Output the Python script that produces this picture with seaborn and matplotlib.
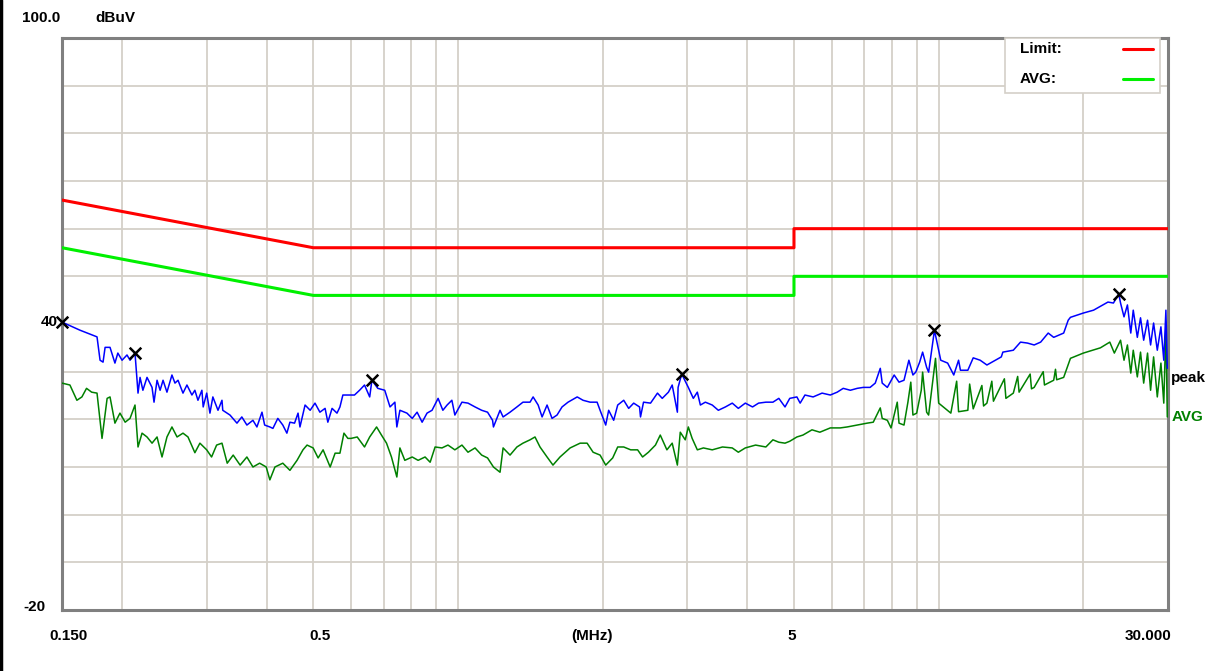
import matplotlib
matplotlib.use("Agg")
import matplotlib.pyplot as plt
from matplotlib.lines import Line2D
from matplotlib.patches import Rectangle
import matplotlib.transforms as mtransforms
import seaborn as sns

# ---------------- data ----------------
limit_freq = [0.15, 0.5, 5.0, 5.0, 30.0]
limit_qp = [66, 56, 56, 60, 60]
limit_avg = [56, 46, 46, 50, 50]

peak_freq = [
    0.150, 0.1635, 0.1774, 0.180, 0.1826, 0.1844, 0.1888, 0.1933, 0.196, 0.200,
    0.2048, 0.2078, 0.2128, 0.2159, 0.218, 0.221, 0.2254, 0.2309, 0.2331, 0.2365,
    0.240, 0.2434, 0.248, 0.254, 0.2577, 0.2615, 0.2678, 0.2729, 0.2795, 0.2835,
    0.2877, 0.2932, 0.295, 0.300, 0.3047, 0.309, 0.3167, 0.3228, 0.324, 0.3354,
    0.3468, 0.355, 0.3637, 0.3744, 0.3816, 0.391, 0.396, 0.406, 0.412, 0.4218,
    0.432, 0.4405, 0.447, 0.457, 0.4647, 0.469, 0.4806, 0.4925, 0.504, 0.516,
    0.529, 0.536, 0.547, 0.560, 0.568, 0.576, 0.590, 0.609, 0.624, 0.639,
    0.655, 0.662, 0.681, 0.704, 0.722, 0.739, 0.746, 0.757, 0.783, 0.803,
    0.822, 0.842, 0.862, 0.883, 0.909, 0.930, 0.949, 0.971, 0.985, 1.019,
    1.049, 1.085, 1.12, 1.152, 1.18, 1.185, 1.223, 1.241, 1.283, 1.326,
    1.365, 1.412, 1.433, 1.468, 1.496, 1.532, 1.569, 1.607, 1.646, 1.694,
    1.77, 1.82, 1.883, 1.947, 1.975, 2.029, 2.058, 2.108, 2.149, 2.212,
    2.265, 2.32, 2.386, 2.397, 2.432, 2.515, 2.60, 2.66, 2.74, 2.79,
    2.86, 2.87, 2.92, 3.014, 3.087, 3.147, 3.193, 3.27, 3.38, 3.48,
    3.60, 3.72, 3.83, 3.96, 4.10, 4.22, 4.37, 4.52, 4.65, 4.79,
    4.90, 5.07, 5.15, 5.27, 5.48, 5.72, 5.95, 6.15, 6.33, 6.55,
    6.77, 6.97, 7.20, 7.38, 7.56, 7.63, 7.82, 8.08, 8.27, 8.47,
    8.67, 8.84, 8.96, 9.13, 9.26, 9.44, 9.53, 9.80, 10.1, 10.44,
    10.75, 11.0, 11.1, 11.5, 11.8, 12.2, 12.6, 13.5, 13.6, 14.3,
    14.8, 15.3, 15.8, 16.3, 16.9, 17.35, 18.2, 18.6, 18.8, 20.0,
    21.0, 22.5, 23.1, 23.7, 23.9, 24.3, 24.7, 25.1, 25.4, 25.9,
    26.3, 26.7, 27.2, 27.6, 28.0, 28.5, 29.0, 29.4, 29.7, 29.9,
]
peak_db = [
    40.4, 38.7, 37.3, 32.4, 32.0, 35.1, 35.1, 31.8, 33.9, 32.4,
    33.5, 32.4, 33.9, 25.5, 28.8, 26.1, 28.8, 26.7, 23.6, 28.2,
    26.1, 28.2, 25.7, 29.3, 27.6, 28.2, 25.5, 27.2, 25.1, 26.1,
    24.0, 26.1, 22.6, 25.5, 21.3, 24.7, 21.9, 24.0, 21.9, 20.9,
    19.2, 20.5, 18.8, 19.8, 18.4, 21.5, 18.8, 18.4, 18.1, 20.2,
    18.8, 17.1, 19.4, 19.2, 21.3, 18.4, 23.0, 21.9, 23.4, 21.5,
    22.3, 19.4, 22.3, 21.3, 22.6, 25.1, 25.1, 25.1, 26.1, 27.2,
    24.7, 28.2, 26.5, 26.1, 22.6, 23.6, 18.4, 21.9, 21.3, 20.2,
    21.5, 19.4, 21.3, 21.9, 24.4, 21.9, 23.0, 24.0, 20.9, 23.6,
    23.4, 22.6, 21.9, 21.5, 19.8, 18.4, 21.9, 20.5, 21.5, 22.6,
    23.6, 23.6, 24.7, 23.0, 20.5, 23.0, 20.2, 20.9, 22.6, 23.6,
    24.7, 24.0, 23.6, 23.6, 21.9, 18.8, 21.9, 19.8, 23.0, 24.0,
    22.3, 23.4, 22.6, 20.5, 23.6, 23.4, 25.5, 24.4, 25.7, 27.2,
    21.5, 26.7, 29.5, 26.7, 24.4, 25.7, 23.0, 23.6, 23.0, 21.9,
    22.6, 23.4, 22.3, 23.4, 22.6, 23.4, 23.6, 23.6, 24.4, 22.6,
    24.4, 24.7, 23.4, 25.1, 24.7, 25.5, 25.1, 25.7, 26.5, 26.1,
    26.5, 26.7, 26.7, 27.6, 30.7, 27.6, 26.7, 29.3, 27.8, 28.2,
    32.4, 29.3, 29.9, 32.0, 34.1, 30.9, 29.9, 38.7, 32.4, 31.8,
    29.3, 32.4, 30.3, 30.3, 32.9, 32.4, 31.4, 33.1, 34.1, 34.5,
    36.2, 36.0, 35.6, 36.2, 38.1, 37.2, 38.1, 40.8, 41.4, 42.3,
    42.9, 44.6, 44.4, 46.3, 44.4, 41.5, 44.0, 38.1, 42.9, 37.2,
    41.3, 36.6, 40.8, 35.6, 40.2, 34.5, 39.4, 32.4, 42.9, 30.7,
]

avg_freq = [
    0.150, 0.1558, 0.1611, 0.165, 0.1687, 0.1729, 0.1774, 0.1817, 0.1862, 0.1888,
    0.1933, 0.198, 0.203, 0.2078, 0.2128, 0.2159, 0.2201, 0.2254, 0.2309, 0.2365,
    0.2422, 0.248, 0.254, 0.2603, 0.2678, 0.2743, 0.2835, 0.2904, 0.300, 0.3071,
    0.3146, 0.3228, 0.331, 0.3406, 0.3521, 0.3637, 0.3744, 0.3866, 0.399, 0.406,
    0.416, 0.432, 0.447, 0.4625, 0.4758, 0.4852, 0.4995, 0.5116, 0.524, 0.542,
    0.555, 0.568, 0.579, 0.590, 0.599, 0.617, 0.639, 0.655, 0.677, 0.693,
    0.710, 0.727, 0.746, 0.757, 0.775, 0.803, 0.826, 0.854, 0.875, 0.896,
    0.926, 0.953, 0.985, 1.019, 1.049, 1.085, 1.12, 1.152, 1.185, 1.223,
    1.241, 1.283, 1.326, 1.365, 1.412, 1.446, 1.481, 1.532, 1.576, 1.630,
    1.711, 1.795, 1.856, 1.910, 1.975, 2.029, 2.098, 2.149, 2.212, 2.287,
    2.364, 2.421, 2.49, 2.575, 2.635, 2.72, 2.79, 2.86, 2.90, 2.97,
    3.014, 3.07, 3.147, 3.24, 3.38, 3.55, 3.72, 3.83, 3.96, 4.16,
    4.37, 4.52, 4.65, 4.79, 4.90, 5.07, 5.22, 5.45, 5.66, 5.95,
    6.24, 6.45, 6.77, 7.10, 7.31, 7.56, 7.63, 7.82, 7.96, 8.20,
    8.27, 8.47, 8.63, 8.75, 8.84, 9.00, 9.20, 9.26, 9.44, 9.53,
    9.85, 10.0, 10.6, 10.9, 11.0, 11.5, 11.6, 11.8, 12.3, 12.4,
    12.6, 12.9, 13.0, 13.7, 13.8, 14.3, 14.6, 14.7, 15.5, 15.6,
    15.8, 16.5, 16.6, 17.35, 17.5, 17.6, 18.2, 18.8, 20.0, 21.7,
    22.7, 23.2, 23.9, 24.3, 24.7, 25.1, 25.4, 25.9, 26.3, 26.7,
    27.2, 27.6, 28.0, 28.5, 29.0, 29.4, 29.7, 29.9,
]
avg_db = [
    27.6, 27.2, 24.0, 24.7, 26.5, 25.7, 25.5, 16.0, 24.4, 24.7,
    19.2, 21.3, 19.4, 20.2, 23.0, 14.2, 17.1, 16.3, 15.0, 16.3,
    12.1, 16.3, 18.4, 16.3, 17.1, 16.3, 13.0, 15.0, 13.6, 12.1,
    14.6, 15.0, 10.8, 12.5, 10.4, 12.1, 10.0, 10.8, 10.0, 7.3,
    10.0, 10.8, 9.3, 11.4, 13.6, 14.6, 14.0, 11.9, 13.6, 10.0,
    12.9, 12.9, 17.1, 16.0, 16.0, 16.3, 14.2, 16.3, 18.4, 16.7,
    15.0, 12.1, 7.9, 14.0, 11.4, 12.1, 11.4, 12.1, 11.0, 14.2,
    14.0, 14.6, 13.6, 14.6, 13.1, 14.0, 12.5, 11.9, 10.0, 8.9,
    14.0, 12.5, 14.2, 15.0, 15.7, 16.3, 14.2, 12.1, 10.4, 12.1,
    14.0, 15.0, 15.0, 13.1, 12.5, 10.4, 11.9, 14.2, 14.2, 13.6,
    13.6, 12.1, 13.1, 14.6, 16.7, 13.6, 15.0, 10.4, 17.3, 15.7,
    18.4, 16.0, 13.6, 14.0, 13.6, 14.2, 14.0, 13.1, 14.0, 14.6,
    14.2, 15.7, 15.2, 15.0, 15.4, 16.3, 16.7, 17.8, 17.3, 18.2,
    18.2, 18.4, 18.8, 19.2, 19.4, 22.4, 20.2, 19.8, 18.2, 23.6,
    19.2, 18.8, 23.6, 27.8, 20.9, 21.3, 26.1, 29.9, 21.5, 20.9,
    32.8, 23.4, 21.3, 28.0, 21.6, 21.9, 27.4, 22.2, 27.1, 22.8,
    23.4, 28.0, 23.8, 28.5, 24.4, 25.5, 29.0, 25.7, 29.5, 26.4,
    26.7, 30.0, 27.2, 28.2, 30.5, 28.3, 28.8, 32.8, 33.9, 35.0,
    36.2, 33.9, 36.6, 32.4, 35.6, 29.7, 34.5, 28.9, 34.1, 27.6,
    33.9, 26.1, 33.1, 24.7, 31.8, 23.4, 39.4, 20.5,
]

marker_freq = [0.150, 0.213, 0.662, 2.92, 9.80, 23.7]
marker_db = [40.4, 33.9, 28.2, 29.5, 38.7, 46.3]

grid_freq = [0.2, 0.3, 0.4, 0.5, 0.6, 0.7, 0.8, 0.9, 1, 2, 3, 4, 5, 6, 7, 8, 9, 10, 20]
grid_db = list(range(-20, 101, 10))

# ---------------- style ----------------
sns.set_style("white")
plt.rcParams["font.family"] = ["Liberation Sans", "DejaVu Sans"]
GRID = "#D4D0C8"
SPINE = "#808080"
RED = "#FF0000"
LIME = "#00F000"

fig = plt.figure(figsize=(12.3, 6.71), dpi=100)
ax = fig.add_axes([62 / 1230, 61 / 671, 1106 / 1230, 572 / 671])

sns.lineplot(x=limit_freq, y=limit_qp, estimator=None, sort=False,
             color=RED, lw=2.2, ax=ax, zorder=3, legend=False)
sns.lineplot(x=limit_freq, y=limit_avg, estimator=None, sort=False,
             color=LIME, lw=2.2, ax=ax, zorder=3, legend=False)
sns.lineplot(x=avg_freq, y=avg_db, estimator=None, sort=False,
             color="#008000", lw=1.1, ax=ax, zorder=4, legend=False)
sns.lineplot(x=peak_freq, y=peak_db, estimator=None, sort=False,
             color="#0000FF", lw=1.1, ax=ax, zorder=5, legend=False)
sns.scatterplot(x=marker_freq, y=marker_db, marker="x", color="black",
                s=70, linewidth=1.8, ax=ax, zorder=6, clip_on=False,
                legend=False)

ax.set_xscale("log")
ax.set_xlim(0.15, 30)
ax.set_ylim(-20, 100)
ax.set_xticks(grid_freq)
ax.set_xticks([], minor=True)
ax.set_yticks(grid_db)
ax.set_xticklabels([])
ax.set_yticklabels([])
ax.tick_params(length=0)
ax.grid(True, color=GRID, lw=1.3)
ax.set_xlabel("")
ax.set_ylabel("")
for sp in ax.spines.values():
    sp.set_color(SPINE)
    sp.set_linewidth(2.2)

txt = dict(fontsize=11, fontweight="bold", color="black")


def ax_px(px, py):
    # pixel position of the picture -> axes fraction
    return (px - 62) / 1106, (610 - py) / 572


# legend box: label on the left, line sample on the right
x0, y0 = ax_px(1005, 93)
x1, y1 = ax_px(1160, 38)
ax.add_patch(Rectangle((x0, y0), x1 - x0, y1 - y0, transform=ax.transAxes,
                       facecolor="white", edgecolor=GRID, lw=1.2,
                       zorder=10, clip_on=False))
for name, col, py in [("Limit:", RED, 49), ("AVG:", LIME, 79)]:
    tx, ty = ax_px(1020, py)
    ax.text(tx, ty, name, ha="left", va="center", transform=ax.transAxes,
            zorder=11, **txt)
    lx0, ly = ax_px(1123, py)
    lx1, _ = ax_px(1153, py)
    ax.add_line(Line2D([lx0, lx1], [ly, ly], transform=ax.transAxes,
                       color=col, lw=2.2, zorder=11))

# axis texts
fig.text(22 / 1230, 1 - 18 / 671, "100.0", ha="left", va="center", **txt)
fig.text(95 / 1230, 1 - 18 / 671, "dBuV", ha="left", va="center", **txt)

ytr = mtransforms.blended_transform_factory(ax.transAxes, ax.transData)
ax.text(-0.004, 40.4, "40", ha="right", va="center", transform=ytr, **txt)
ax.text(-0.015, -19.4, "-20", ha="right", va="center", transform=ytr, **txt)

xl = [(69, "0.150"), (320, "0.5"), (592, "(MHz)"), (792, "5"), (1148, "30.000")]
for px, s in xl:
    fig.text(px / 1230, 1 - 636 / 671, s, ha="center", va="center", **txt)

ax.text(1.003, 28.6, "peak", ha="left", va="center", transform=ytr, **txt)
ax.text(1.003, 20.5, "AVG", ha="left", va="center", transform=ytr,
        fontsize=11, fontweight="bold", color="#008000")

# black frame line on the left edge of the picture
fig.add_artist(Line2D([0.0012, 0.0012], [0, 1], transform=fig.transFigure,
                      color="black", lw=2.5))

fig.savefig("out.png", dpi=100)
